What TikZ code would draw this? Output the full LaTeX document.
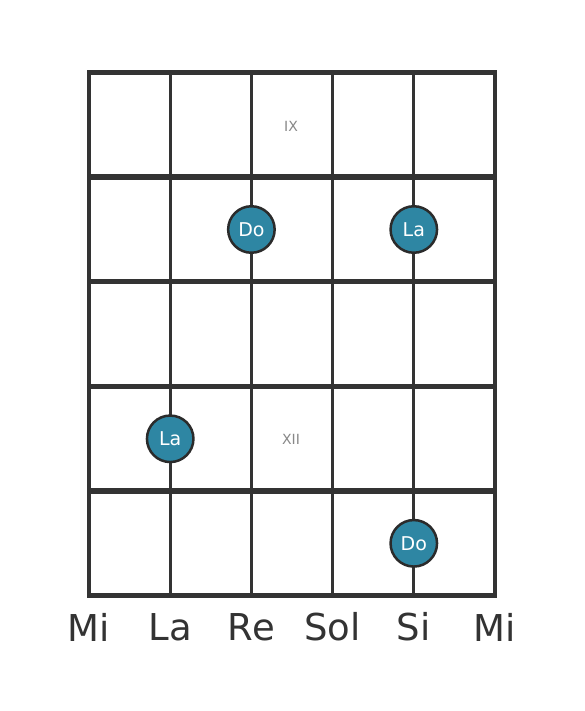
\documentclass[tikz,border=0pt]{standalone}
\usepackage{fontspec}
\setmainfont{DejaVu Sans}
\usetikzlibrary{positioning}
\definecolor{fretgray}{HTML}{333333}
\definecolor{dotteal}{HTML}{2E86A3}
\definecolor{dotedge}{HTML}{2B2B2B}
\definecolor{romangray}{HTML}{888888}
\tikzset{
  stringline/.style={fretgray,line width=3.2pt},
  fretline/.style={fretgray,line width=5.5pt},
  notedot/.style={circle,fill=dotteal,draw=dotedge,line width=2.5pt,minimum size=46.5pt,inner sep=0pt,text=white,font=\fontsize{19}{21}\selectfont},
  stringname/.style={text=fretgray,font=\fontsize{37}{40}\selectfont},
  fretnum/.style={text=romangray,font=\fontsize{14}{16}\selectfont}
}

\begin{document}
\begin{tikzpicture}[x=1pt,y=-1pt]
                      \useasboundingbox(0,0)rectangle(584,711);
                      \fill[white](0,0)rectangle(584,711);
                      % strings
                      \foreach \s in {0,...,5} \draw[stringline] (89+81.2*\s,72) -- (89+81.2*\s,595);
                      % frets
                      \foreach \f in {0,...,5} \draw[fretline] (87,72.5+104.6*\f) -- (497,72.5+104.6*\f);
                      % fret numbers
                      \node[fretnum](nine)at(291,126){IX};
                      \node[fretnum](twelve)at(291,439){XII};
                      % notes
                      \node[notedot](doA)at(251.4,229.5){Do};
                      \node[notedot](laA)at(413.8,229.5){La};
                      \node[notedot](laB)at(170.2,438.8){La};
                      \node[notedot](doB)at(413.8,543.3){Do};
                      % string names
                      \foreach \n/\name in {0/Mi,1/La,2/Re,3/Sol,4/Si,5/Mi} \node[stringname](s\n)at(89+81.2*\n,627){\name};
                  \end{tikzpicture}
\end{document}
